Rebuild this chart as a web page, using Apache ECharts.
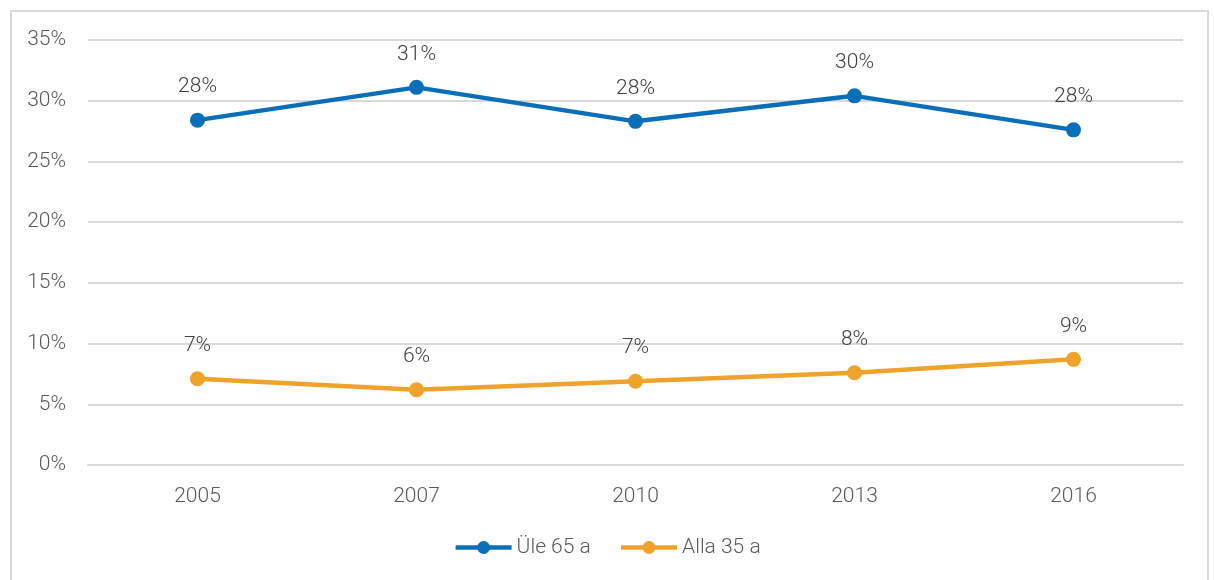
<!DOCTYPE html>
<html><head><meta charset="utf-8">
<script src="https://cdn.jsdelivr.net/npm/echarts@6/dist/echarts.min.js"></script>
<style>
html,body{margin:0;padding:0;background:#fff;}
#frame{position:absolute;left:10px;top:10px;width:1199px;height:600px;border:2px solid #d9d9d9;box-sizing:border-box;}
#c{position:absolute;left:0;top:0;width:1214px;height:580px;}
</style></head>
<body>
<div id="frame"></div>
<div id="c"></div>
<script>
const categories = ['2005','2007','2010','2013','2016'];
const seriesNames = ['Üle 65 a','Alla 35 a'];
const over65 = [28.4, 31.1, 28.3, 30.4, 27.6];
const under35 = [7.1, 6.2, 6.9, 7.6, 8.7];
const font = 'Roboto';
const chart = echarts.init(document.getElementById('c'));
const lbl = {show:true, position:'top', distance:15, color:'#404040', fontFamily:font, fontWeight:300, fontSize:21,
  formatter: p => Math.round(p.value) + '%'};
chart.setOption({
  animation:false,
  grid:{left:88, right:31, top:40, bottom:115},
  legend:{bottom:17, left:'center', itemWidth:56, itemHeight:16, itemGap:28,
    lineStyle:{width:4.5},
    textStyle:{color:'#595959', fontFamily:font, fontWeight:300, fontSize:21},
    data:seriesNames},
  xAxis:{type:'category', data:categories, boundaryGap:true,
    axisLine:{lineStyle:{color:'#d9d9d9', width:2}}, axisTick:{show:false},
    axisLabel:{color:'#595959', fontFamily:font, fontWeight:300, fontSize:21, margin:21}},
  yAxis:{type:'value', min:0, max:35, interval:5,
    axisLine:{show:false}, axisTick:{show:false},
    splitLine:{lineStyle:{color:'#d9d9d9', width:2}},
    axisLabel:{color:'#595959', fontFamily:font, fontWeight:300, fontSize:21, margin:22, formatter:'{value}%'}},
  series:[
    {name:seriesNames[0], type:'line', data:over65, symbol:'circle', symbolSize:15,
      lineStyle:{width:4.5, color:'#0a6fb8'}, itemStyle:{color:'#0a6fb8'}, label:lbl},
    {name:seriesNames[1], type:'line', data:under35, symbol:'circle', symbolSize:15,
      lineStyle:{width:4.5, color:'#f0a32a'}, itemStyle:{color:'#f0a32a'}, label:lbl}
  ]
});
</script>
</body></html>
